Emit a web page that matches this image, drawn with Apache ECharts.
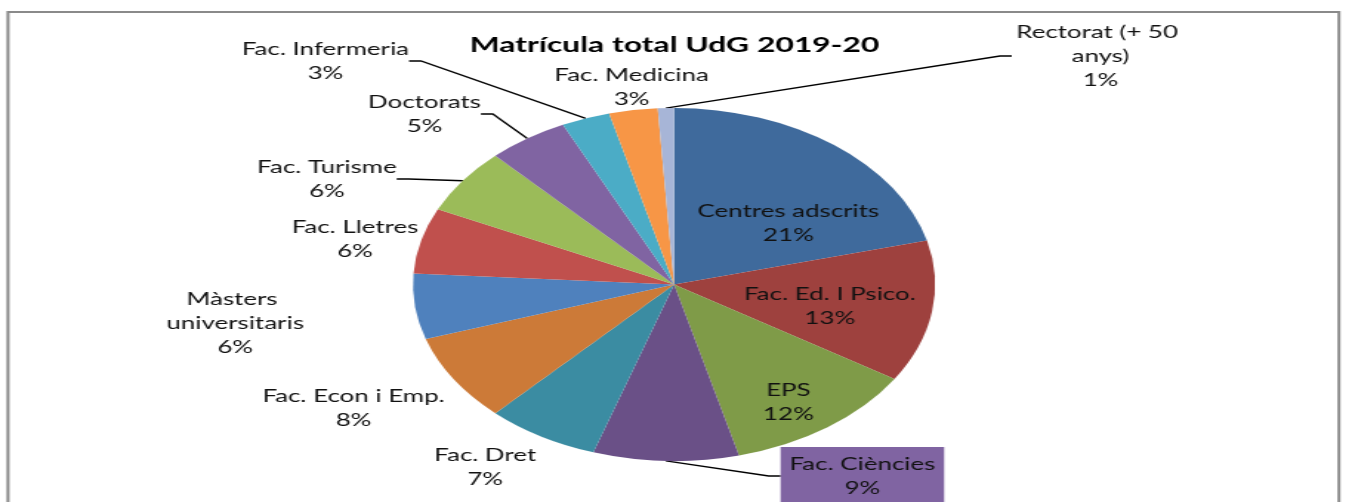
<!DOCTYPE html>
<html><head><meta charset="utf-8">
<script src="https://cdn.jsdelivr.net/npm/echarts@6/dist/echarts.min.js"></script>
<style>
html,body{margin:0;padding:0;background:#fff;overflow:hidden;}
#wrap{width:1349px;height:502px;overflow:hidden;position:relative;}
#chart{width:912px;height:502px;transform:scaleX(1.47917);transform-origin:0 0;}
</style></head><body>
<div id="wrap"><div id="chart"></div></div>
<script>
const chartTitle = 'Matrícula total UdG 2019-20';
const categories = ['Centres adscrits','Fac. Ed. I Psico.','EPS','Fac. Ciències','Fac. Dret','Fac. Econ i Emp.','Màsters universitaris','Fac. Lletres','Fac. Turisme','Doctorats','Fac. Infermeria','Fac. Medicina','Rectorat (+ 50 anys)'];
const percents = [21,13,12,9,7,8,6,6,6,5,3,3,1];
const colors = ['#3F6A9C','#9E413E','#7F9B48','#6A5087','#3B8CA2','#CC7A38','#4F81BD','#C0504D','#9BBB59','#8064A2','#4BACC6','#F79646','#A7B5D7'];
// label centres in chart pixels (layout, not data)
const labelPos = [[533,223],[561,306],[533,402],[583,476],[328,467],[239,408],[159,323],[240,239],[221,179],[287,114],[220,61],[427,87],[744,56]];
const insideLabel = [true,true,true,false,false,false,false,false,false,false,false,false,false];
const leaderLine = [false,false,false,true,false,false,false,false,true,true,true,false,true];

const FONT = 'Lato';
const chart = echarts.init(document.getElementById('chart'), null, {renderer:'canvas'});
const data = categories.map((name, i) => {
  const label = { position: insideLabel[i] ? 'inside' : 'outside' };
  if (name === 'Màsters universitaris') { label.width = 112; label.overflow = 'break'; }
  if (name === 'Rectorat (+ 50 anys)') { label.width = 120; label.overflow = 'break'; }
  if (name === 'Fac. Ciències') { label.backgroundColor = '#8064A2'; label.padding = [5, 6, 5, 6]; }
  return { name, value: percents[i], itemStyle: { color: colors[i] }, label, labelLine: { show: leaderLine[i] } };
});
chart.setOption({
  animation: false,
  backgroundColor: '#fff',
  title: { text: chartTitle, left: 'center', top: 29, textStyle: { fontFamily: FONT, fontWeight: 'bold', fontSize: 21.5, color: '#000' } },
  graphic: [{ type: 'rect', shape: { x: 5.4, y: 12, width: 899.8, height: 530 }, style: { fill: 'none', stroke: '#8a8a8a', lineWidth: 2 }, silent: true, z: 100 }],
  series: [{
    type: 'pie',
    center: [455.7, 284.5],
    radius: 176.5,
    startAngle: 90,
    clockwise: true,
    avoidLabelOverlap: false,
    itemStyle: { borderWidth: 0 },
    label: { formatter: '{b}\n{c}%', fontFamily: FONT, fontSize: 17.5, lineHeight: 24, color: '#111', align: 'center' },
    labelLine: { length: 10, length2: 8, smooth: false, lineStyle: { color: '#000', width: 1.3 } },
    labelLayout: function (p) {
      const pos = labelPos[p.dataIndex];
      return { x: pos[0], y: pos[1], align: 'center', verticalAlign: 'middle' };
    },
    emphasis: { disabled: true },
    data: data
  }]
});
</script>
</body></html>
